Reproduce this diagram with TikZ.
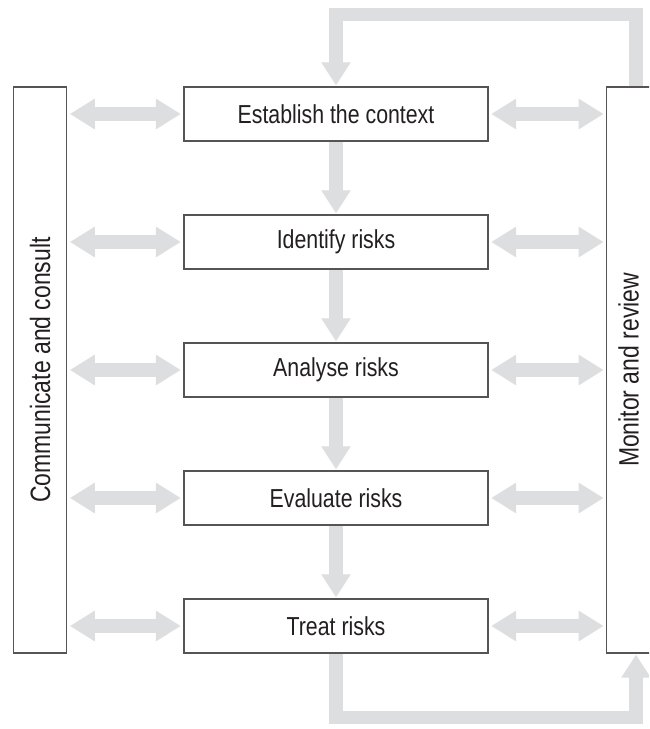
\documentclass[tikz,border=0pt]{standalone}
\usepackage{fontspec}
\setmainfont{Liberation Sans}
\newfontfamily\narrowsans[FakeStretch=0.82]{Liberation Sans}
\usetikzlibrary{arrows.meta}
\definecolor{flowgray}{RGB}{221,222,224}
\definecolor{edgegray}{RGB}{85,85,85}
\definecolor{inkblack}{RGB}{35,31,32}

\begin{document}
\begin{tikzpicture}[x=1pt, y=-1pt,
  labelfont/.style={font=\narrowsans\fontsize{26}{30}\selectfont, text=inkblack},
  sidefont/.style={font=\narrowsans\fontsize{28}{32}\selectfont, text=inkblack},
  stepbox/.style={draw=edgegray, line width=1.3pt, fill=white,
    minimum width=304pt, minimum height=54pt, inner sep=0pt, labelfont},
  sidebox/.style={draw=edgegray, line width=1.3pt, fill=white,
    minimum width=53.4pt, minimum height=566pt, inner sep=0pt},
  flow/.style={draw=flowgray, line width=13.5pt, line join=miter,
    -{Triangle[width=28pt,length=23pt]}},
  both/.style={draw=flowgray, line width=14pt,
    {Triangle[width=29pt,length=25pt]}-{Triangle[width=29pt,length=25pt]},
    shorten <=2.5pt, shorten >=2.5pt},
]
\useasboundingbox (0,0) rectangle (649,729);
\clip (0,0) rectangle (649,729);

% side columns
\node[sidebox] (comm) at (40,370) {};
\node[sidebox] (monit) at (633.5,370) {};
\node[sidefont, rotate=90] (commtext) at (comm.center) {Communicate and consult};
\node[sidefont, rotate=90] (monittext) at ([xshift=-5pt]monit.center) {Monitor and review};

% process steps
\node[stepbox] (ctx)   at (336,114) {Establish the context};
\node[stepbox] (ident) at (336,242) {Identify risks};
\node[stepbox] (anal)  at (336,370) {Analyse risks};
\node[stepbox] (eval)  at (336,498) {Evaluate risks};
\node[stepbox] (treat) at (336,626) {Treat risks};

% downward flow between steps
\draw[flow, shorten >=1pt] (ctx.south)   -- (ident.north);
\draw[flow, shorten >=1pt] (ident.south) -- (anal.north);
\draw[flow, shorten >=1pt] (anal.south)  -- (eval.north);
\draw[flow, shorten >=1pt] (eval.south)  -- (treat.north);

% feedback loops through monitoring
\draw[flow, shorten >=1pt] ([xshift=2.5pt]monit.north) -- ++(0,-72) -| (ctx.north);
\draw[flow, shorten >=1pt] (treat.south) -- ++(0,64) -| ([xshift=2.5pt]monit.south);

% two-way exchanges with the side columns
\foreach \s in {ctx,ident,anal,eval,treat}{
  \draw[both] (comm.east |- \s.west) -- (\s.west);
  \draw[both] (\s.east) -- (monit.west |- \s.east);
}
\end{tikzpicture}
\end{document}
